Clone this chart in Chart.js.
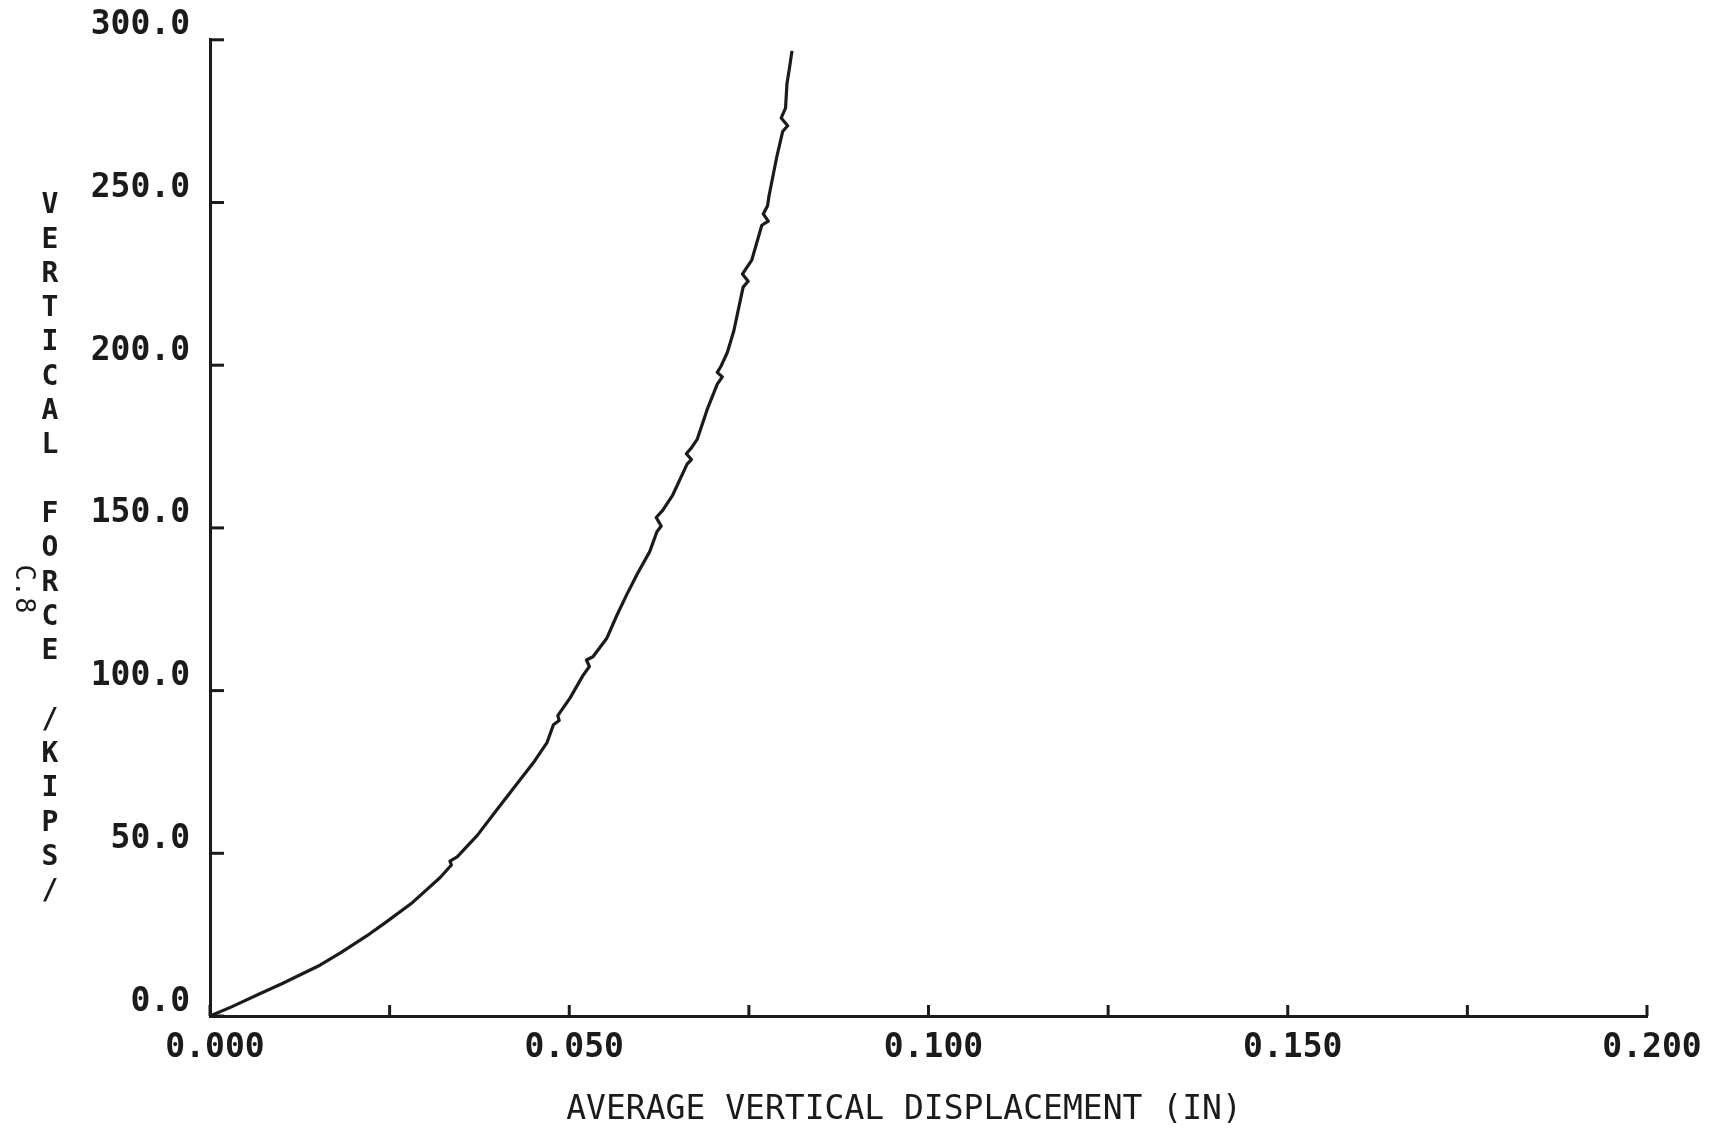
<!DOCTYPE html>
<html>
<head>
<meta charset="utf-8">
<title>Average vertical displacement vs vertical force</title>
<script src="https://cdn.jsdelivr.net/npm/chart.js@4.4.1/dist/chart.umd.min.js"></script>
<style>
  html, body { margin: 0; padding: 0; background: #ffffff; }
  #wrap { width: 1716px; height: 1130px; }
</style>
</head>
<body>
<div id="wrap"><canvas id="plot" width="1716" height="1130"></canvas></div>
<script>
// Load-deflection trace: average vertical displacement (in) vs vertical force (kips)
const displacement = [
  0.0000, 0.0030, 0.0070, 0.0100, 0.0125, 0.0153, 0.0181, 0.0218, 0.0246, 0.0282,
  0.0320, 0.0336, 0.0334, 0.0344, 0.0372, 0.0399, 0.0427, 0.0450, 0.0469, 0.0478,
  0.0486, 0.0484, 0.0501, 0.0519, 0.0528, 0.0524, 0.0533, 0.0552, 0.0566, 0.0580,
  0.0595, 0.0612, 0.0622, 0.0628, 0.0621, 0.0630, 0.0644, 0.0664, 0.0670, 0.0663,
  0.0670, 0.0678, 0.0692, 0.0706, 0.0713, 0.0706, 0.0711, 0.0720, 0.0729, 0.0742,
  0.0749, 0.0741, 0.0747, 0.0754, 0.0768, 0.0777, 0.0770, 0.0776, 0.0778, 0.0789,
  0.0797, 0.0804, 0.0795, 0.0801, 0.0803, 0.0807, 0.0810
];
const verticalForce = [
  0.0, 2.8, 6.9, 9.9, 12.6, 15.6, 19.3, 24.6, 29.0, 34.9,
  42.5, 46.4, 47.6, 48.9, 55.5, 63.3, 71.3, 77.8, 84.0, 89.5,
  90.8, 92.3, 97.7, 104.6, 107.4, 109.4, 110.4, 116.0, 123.0, 129.5,
  136.0, 142.7, 148.8, 150.6, 153.2, 155.4, 160.1, 169.6, 171.0, 172.8,
  174.6, 177.2, 186.4, 194.2, 196.4, 197.8, 199.6, 203.9, 210.5, 224.0,
  225.8, 228.0, 230.0, 232.3, 243.0, 244.3, 246.5, 249.0, 252.0, 264.2,
  271.8, 273.6, 276.0, 279.0, 286.5, 292.0, 296.6
];

// Axis ticks: x has minor marks every 0.025, labelled every 0.050
const xTickValues = [0, 0.025, 0.05, 0.075, 0.1, 0.125, 0.15, 0.175, 0.2];
const xTickLabels = ['0.000', '', '0.050', '', '0.100', '', '0.150', '', '0.200'];
const yTickValues = [0, 50, 100, 150, 200, 250, 300];
const yTickLabels = ['0.0', '50.0', '100.0', '150.0', '200.0', '250.0', '300.0'];

const xTitle = 'AVERAGE VERTICAL DISPLACEMENT (IN)';
const yTitle = 'VERTICAL FORCE /KIPS/';
const pageMark = 'C.8';

const INK = '#1b1b1b';
const MONO = "'DejaVu Sans Mono', 'Liberation Mono', monospace";

const points = displacement.map((x, i) => ({ x: x, y: verticalForce[i] }));

// Tick marks drawn on the inner side of both axes, plus the axis titles
const plotterDecor = {
  id: 'plotterDecor',
  afterDraw(chart) {
    const ctx = chart.ctx;
    const xs = chart.scales.x;
    const ys = chart.scales.y;
    const area = chart.chartArea;
    ctx.save();
    ctx.strokeStyle = INK;
    ctx.lineWidth = 3;
    ctx.lineCap = 'butt';
    xs.ticks.forEach(t => {
      const px = xs.getPixelForValue(t.value);
      ctx.beginPath();
      ctx.moveTo(px, area.bottom);
      ctx.lineTo(px, area.bottom - 11);
      ctx.stroke();
    });
    ys.ticks.forEach(t => {
      const py = ys.getPixelForValue(t.value);
      ctx.beginPath();
      ctx.moveTo(area.left, py);
      ctx.lineTo(area.left + 14, py);
      ctx.stroke();
    });

    ctx.fillStyle = INK;
    ctx.textAlign = 'center';
    ctx.textBaseline = 'middle';

    // x-axis title
    ctx.font = '33px ' + MONO;
    ctx.fillText(xTitle, 904, 1110);

    // y-axis title, one letter per line
    ctx.font = 'bold 28px ' + MONO;
    const chars = yTitle.split('');
    chars.forEach((c, i) => {
      if (c !== ' ') ctx.fillText(c, 50, 206 + i * 34.3);
    });

    // page mark, turned a quarter turn
    ctx.save();
    ctx.translate(23, 589);
    ctx.rotate(Math.PI / 2);
    ctx.font = '27px ' + MONO;
    ctx.fillText(pageMark, 0, 0);
    ctx.restore();

    ctx.restore();
  }
};

new Chart(document.getElementById('plot'), {
  type: 'line',
  data: {
    datasets: [{
      data: points,
      borderColor: INK,
      borderWidth: 3.2,
      pointRadius: 0,
      tension: 0,
      borderJoinStyle: 'round',
      fill: false
    }]
  },
  options: {
    responsive: false,
    animation: false,
    devicePixelRatio: 1,
    layout: { padding: { left: 0, top: 36, right: 69, bottom: 0 } },
    plugins: {
      legend: { display: false },
      tooltip: { enabled: false }
    },
    scales: {
      x: {
        type: 'linear',
        position: 'bottom',
        min: 0,
        max: 0.2,
        afterBuildTicks: s => { s.ticks = xTickValues.map(v => ({ value: v })); },
        afterFit: s => { s.height = 114; },
        grid: { display: false, drawTicks: false },
        border: { display: true, color: INK, width: 3 },
        ticks: {
          autoSkip: false,
          maxRotation: 0,
          padding: 13,
          labelOffset: 5,
          color: INK,
          font: { family: MONO, size: 33, weight: 'bold' },
          callback: (v, i) => xTickLabels[i]
        },
        title: { display: false }
      },
      y: {
        type: 'linear',
        position: 'left',
        min: 0,
        max: 300,
        afterBuildTicks: s => { s.ticks = yTickValues.map(v => ({ value: v })); },
        afterFit: s => { s.width = 210; },
        grid: { display: false, drawTicks: false },
        border: { display: true, color: INK, width: 3 },
        ticks: {
          autoSkip: false,
          padding: 20,
          labelOffset: -14,
          color: INK,
          font: { family: MONO, size: 33, weight: 'bold' },
          callback: (v, i) => yTickLabels[i]
        },
        title: { display: false }
      }
    }
  },
  plugins: [plotterDecor]
});
</script>
</body>
</html>
